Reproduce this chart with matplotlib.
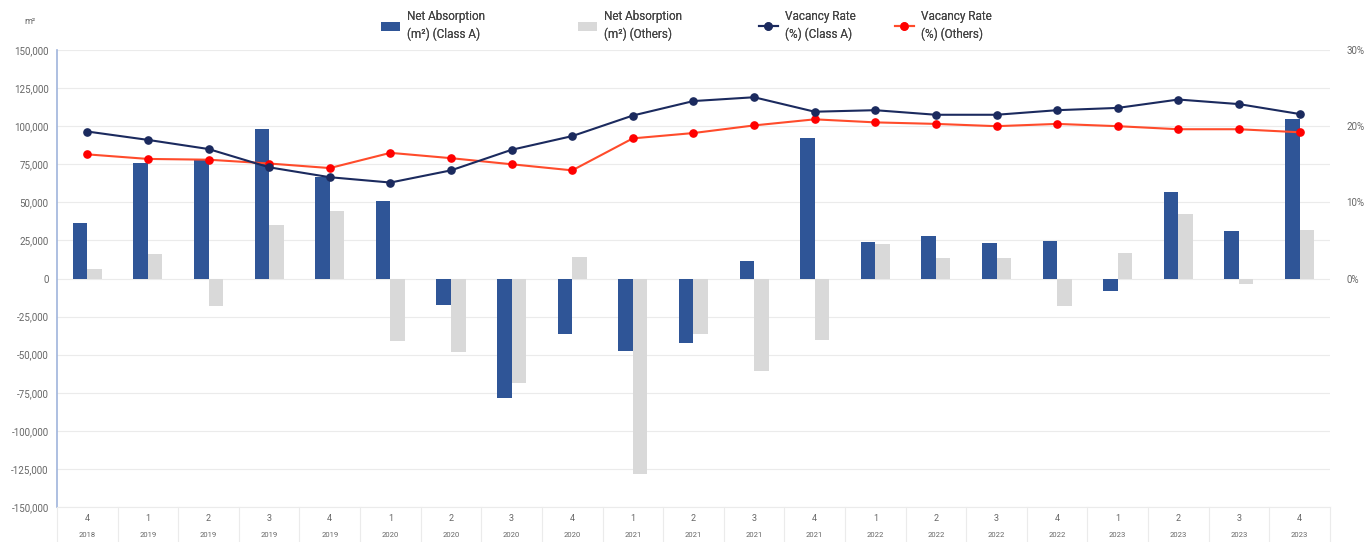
import matplotlib.pyplot as plt
import matplotlib.transforms as mtransforms
from matplotlib.ticker import FuncFormatter
import numpy as np

plt.rcParams['font.family'] = ['Roboto', 'DejaVu Sans']

quarters = ['4', '1', '2', '3', '4', '1', '2', '3', '4', '1', '2', '3', '4',
            '1', '2', '3', '4', '1', '2', '3', '4']
years = ['2018', '2019', '2019', '2019', '2019', '2020', '2020', '2020', '2020',
         '2021', '2021', '2021', '2021', '2022', '2022', '2022', '2022',
         '2023', '2023', '2023', '2023']

# net absorption, m²
absorption_class_a = [36600, 75700, 78300, 98000, 66900, 50600, -17100, -78500, -36400,
                      -47800, -42300, 11200, 92500, 23900, 27800, 23500, 24800,
                      -8100, 56600, 31100, 104600]
absorption_others = [6400, 16200, -18000, 34900, 44300, -41200, -48200, -68600, 14300,
                     -128500, -36200, -60500, -40100, 22600, 13200, 13200, -18200,
                     16600, 42300, -3300, 31600]

# vacancy rate, %
vacancy_class_a = [19.3, 18.2, 17.0, 14.6, 13.3, 12.6, 14.2, 16.9, 18.7, 21.4, 23.3,
                   23.8, 21.9, 22.1, 21.5, 21.5, 22.1, 22.4, 23.5, 22.9, 21.6]
vacancy_others = [16.3, 15.7, 15.6, 15.1, 14.5, 16.5, 15.8, 15.0, 14.2, 18.4, 19.1,
                  20.1, 20.9, 20.5, 20.3, 20.0, 20.3, 20.0, 19.6, 19.6, 19.2]

blue = '#2F5597'
grey = '#D9D9D9'
navy = '#1B2A5E'
red_line = '#FF4B2B'
red_dot = '#FF0000'
tick_col = '#666666'

W, H = 1371, 542
fig = plt.figure(figsize=(W / 100, H / 100), dpi=100)
ax = fig.add_axes([0.0416, 0.0646, 0.9284, 0.8431])
ax2 = ax.twinx()

x = np.arange(len(quarters))
w = 0.24
ax.bar(x - w / 2, absorption_class_a, width=w, color=blue, zorder=2,
       label='Net Absorption\n(m²) (Class A)')
ax.bar(x + w / 2, absorption_others, width=w, color=grey, zorder=2,
       label='Net Absorption\n(m²) (Others)')

ax2.plot(x, vacancy_class_a, color=navy, lw=1.5, marker='o', ms=5.2,
         mfc=navy, mec=navy, zorder=4, label='Vacancy Rate\n(%) (Class A)')
ax2.plot(x, vacancy_others, color=red_line, lw=1.5, marker='o', ms=5.2,
         mfc=red_dot, mec=red_dot, zorder=3, label='Vacancy Rate\n(%) (Others)')

ax.set_xlim(-0.5, len(quarters) - 0.5)
ax.set_ylim(-150000, 150000)
ax.set_yticks(np.arange(-150000, 150001, 25000))
ax.yaxis.set_major_formatter(FuncFormatter(lambda v, p: f'{int(v):,}'))
ax.grid(axis='y', color='#EBEBEB', lw=0.8, zorder=0)
ax.set_axisbelow(True)
ax.set_xticks([])
ax.tick_params(axis='y', length=0, labelsize=7, labelcolor=tick_col, pad=6)

ax2.set_ylim(-30, 30)
ax2.set_yticks([0, 10, 20, 30])
ax2.yaxis.set_major_formatter(FuncFormatter(lambda v, p: f'{int(v)}%'))
ax2.tick_params(axis='y', length=0, labelsize=7, labelcolor=tick_col, pad=12)

for a in (ax, ax2):
    for s in a.spines.values():
        s.set_visible(False)
ax.spines['left'].set_visible(True)
ax.spines['left'].set_color('#9FB4DC')
ax.spines['left'].set_linewidth(1.2)
ax.spines['bottom'].set_visible(True)
ax.spines['bottom'].set_color('#EBEBEB')

# category table under the plot
trans = mtransforms.blended_transform_factory(ax.transData, ax.transAxes)
for i in range(len(quarters)):
    ax.text(i, -0.026, quarters[i], transform=trans, ha='center', va='center',
            fontsize=6.5, color=tick_col)
    ax.text(i, -0.062, years[i], transform=trans, ha='center', va='center',
            fontsize=5.5, color=tick_col)
for b in np.arange(-0.5, len(quarters), 1.0):
    ax.plot([b, b], [0, -0.08], transform=trans, color='#EBEBEB', lw=0.8,
            clip_on=False)

fig.text(30 / W, 1 - 22 / H, 'm²', fontsize=6.5, color=tick_col,
         ha='center', va='center')

# legend entries placed one by one, spacing is uneven in the original
h1, l1 = ax.get_legend_handles_labels()
h2, l2 = ax2.get_legend_handles_labels()
legend_x = [381, 578, 759, 895]
for h, l, lx in zip(h1 + h2, l1 + l2, legend_x):
    leg = fig.legend([h], [l], loc='upper left', bbox_to_anchor=(lx / W, 1 - 10 / H),
                     frameon=False, fontsize=8.5, handlelength=1.6,
                     borderpad=0, borderaxespad=0, handletextpad=0.6,
                     labelcolor='#444444')
    for t in leg.get_texts():
        t.set_linespacing(1.45)
    fig.add_artist(leg)

fig.savefig('out.png', dpi=100, facecolor='white')
